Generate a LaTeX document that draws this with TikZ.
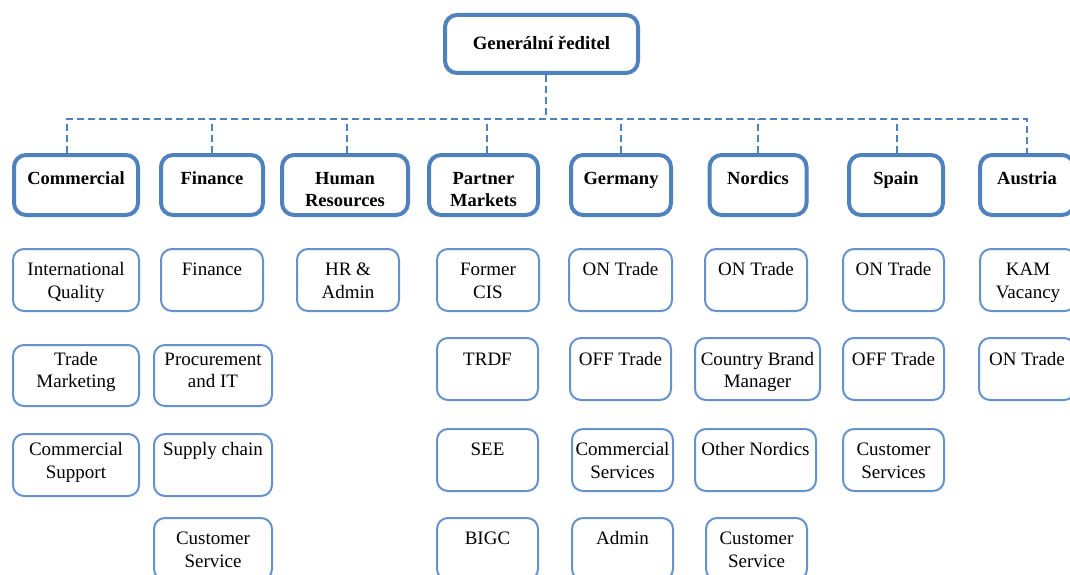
\documentclass[tikz,border=0pt]{standalone}
\usepackage{fontspec}
\setmainfont{Liberation Serif}
\definecolor{boxblue}{RGB}{79,129,189}
\definecolor{subblue}{RGB}{102,146,204}
% department / top-level box: empty frame plus a top-aligned bold caption
\newcommand\deptunit[6]{%
  \node[deptbox, minimum width=#4pt, minimum height=#5pt] (#1) at (#2,#3) {};
  \node[depttxt] (#1-t) at (#2,168.9) {\strut #6};
}
% sub-unit box: empty frame plus a caption placed at the row's text line
\newcommand\subunit[7]{%
  \node[subbox, minimum width=#4pt, minimum height=#5pt] (#1) at (#2,#3) {};
  \node[subtxt] (#1-t) at (#2,#6) {\strut #7};
}
\begin{document}
\begin{tikzpicture}[x=1pt,y=-1pt,
  headbox/.style={draw=boxblue, line width=4pt, rounded corners=12pt, inner sep=0pt},
  deptbox/.style={headbox},
  subbox/.style={draw=subblue, line width=2pt, rounded corners=11pt, inner sep=0pt},
  depttxt/.style={font=\fontsize{18.5}{22}\selectfont\bfseries, align=center, anchor=north, inner sep=0pt},
  subtxt/.style={font=\fontsize{19}{22.5}\selectfont, align=center, anchor=north, inner sep=0pt},
  conn/.style={draw=boxblue, line width=1.5pt, dash pattern=on 7pt off 4pt}
]
\useasboundingbox (0,0) rectangle (1070,575);
\clip (0,0) rectangle (1070,575);

% top of the hierarchy
\node[headbox, minimum width=193pt, minimum height=58pt,
      font=\fontsize{18.8}{22}\selectfont\bfseries] (gm) at (541.5,44) {\raisebox{1.5pt}{Generální ředitel}};

% departments
\deptunit{com}{76}{185}{124}{60}{Commercial}
\deptunit{fin}{212}{185}{102}{60}{Finance}
\deptunit{hr}{345}{185}{126}{60}{Human\\Resources}
\deptunit{pm}{483.5}{185}{109}{60}{Partner\\Markets}
\deptunit{ger}{621}{185}{100}{60}{Germany}
\deptunit{nor}{758}{185}{97}{60}{Nordics}
\deptunit{spa}{896}{185}{94}{60}{Spain}
\deptunit{aus}{1027}{185}{94}{60}{Austria}

% dashed bus from the top box to every department
\coordinate (bus) at (0,119);
\draw[conn] ([xshift=4.5pt]gm.south) -- ([xshift=4.5pt]gm.south |- bus);
\draw[conn] ([xshift=-9pt]com.north) |- (aus.north |- bus) -- (aus.north);
\draw[conn] (fin.north) -- (fin.north |- bus);
\draw[conn] ([xshift=2pt]hr.north) -- ([xshift=2pt]hr.north |- bus);
\draw[conn] ([xshift=3.5pt]pm.north) -- ([xshift=3.5pt]pm.north |- bus);
\draw[conn] (ger.north) -- (ger.north |- bus);
\draw[conn] (nor.north) -- (nor.north |- bus);
\draw[conn] ([xshift=1pt]spa.north) -- ([xshift=1pt]spa.north |- bus);

% Commercial
\subunit{c1}{76}{280}{126}{62}{259.8}{International\\Quality}
\subunit{c2}{76}{375.5}{126}{61}{349.3}{Trade\\Marketing}
\subunit{c3}{76}{465}{126}{62}{439.8}{Commercial\\Support}
% Finance
\subunit{f1}{212}{280}{102}{62}{259.8}{Finance}
\subunit{f2}{213}{375.5}{118}{61}{349.3}{Procurement\\and IT}
\subunit{f3}{213}{465}{118}{62}{439.8}{Supply chain}
\subunit{f4}{213}{549}{118}{62}{528.8}{Customer\\Service}
% Human Resources
\subunit{h1}{348}{280}{102}{62}{259.8}{HR \&\\Admin}
% Partner Markets
\subunit{p1}{488}{280}{102}{62}{259.8}{Former\\CIS}
\subunit{p2}{487.5}{369}{101}{62}{349.3}{TRDF}
\subunit{p3}{487.5}{460}{101}{62}{439.8}{SEE}
\subunit{p4}{487.5}{549}{101}{62}{528.8}{BIGC}
% Germany
\subunit{g1}{620.5}{280}{103}{62}{259.8}{ON Trade}
\subunit{g2}{620.5}{369}{101}{62}{349.3}{OFF Trade}
\subunit{g3}{622.5}{460}{101}{62}{439.8}{Commercial\\Services}
\subunit{g4}{622.5}{549}{101}{62}{528.8}{Admin}
% Nordics
\subunit{n1}{756}{280}{102}{62}{259.8}{ON Trade}
\subunit{n2}{757.5}{369}{125}{62}{349.3}{Country Brand\\Manager}
\subunit{n3}{755.5}{460}{121}{62}{439.8}{Other Nordics}
\subunit{n4}{756.5}{549}{101}{62}{528.8}{Customer\\Service}
% Spain
\subunit{s1}{893.5}{280}{101}{62}{259.8}{ON Trade}
\subunit{s2}{893.5}{369}{101}{62}{349.3}{OFF Trade}
\subunit{s3}{893.5}{460}{101}{62}{439.8}{Customer\\Services}
% Austria
\subunit{a1}{1028}{280}{96}{62}{259.8}{KAM\\Vacancy}
\subunit{a2}{1027}{369}{96}{62}{349.3}{ON Trade}
\end{tikzpicture}
\end{document}
